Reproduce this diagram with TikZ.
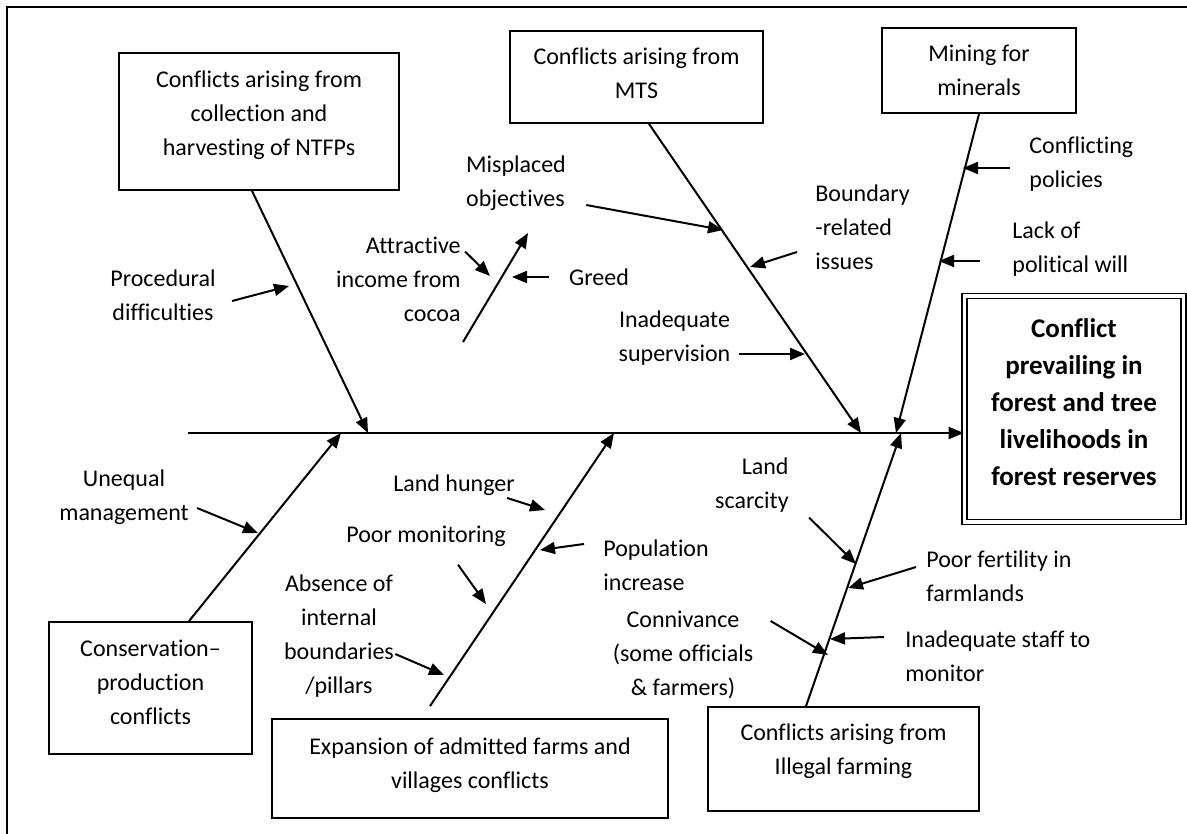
\documentclass[tikz,border=0pt]{standalone}
\usepackage{fontspec}
\setmainfont{Carlito}[Ligatures={TeX,NoCommon}]
\usetikzlibrary{arrows.meta, positioning}

\begin{document}
\begin{tikzpicture}[x=0.5pt, y=-0.5pt,
  font=\fontsize{12pt}{17pt}\selectfont,
  box/.style={draw, line width=0.9pt, align=center, inner sep=0pt},
  cause/.style={align=center, inner sep=2pt},
  bone/.style={line width=1pt, -{Triangle[length=7.5pt, width=6pt]}}]

  \useasboundingbox (0,0) rectangle (1187,834);
  \draw[line width=0.9pt] (1187,7) -- (7,7) -- (7,834);

  % category boxes
  \node[box, minimum width=140pt, minimum height=68.5pt, text depth=8.6pt] (ntfp) at (259,121.5)
    {Conflicts arising from\\collection and\\harvesting of NTFPs};
  \node[box, minimum width=126.5pt, minimum height=46pt, text depth=3.5pt] (mts) at (636.5,77)
    {Conflicts arising from\\MTS};
  \node[box, minimum width=97pt, minimum height=42.5pt] (mining) at (979,70.5)
    {Mining for\\minerals};
  \node[box, minimum width=101.5pt, minimum height=66pt, text depth=6pt] (cons) at (150.5,688)
    {Conservation--\\production\\conflicts};
  \node[box, minimum width=198pt, minimum height=49.5pt, text depth=5pt] (expan) at (470,768.5)
    {Expansion of admitted farms and\\villages conflicts};
  \node[box, minimum width=135.5pt, minimum height=52pt, text depth=10pt] (illegal) at (843.5,759)
    {Conflicts arising from\\Illegal farming};
  \node[box, double, double distance=1.6pt, line width=0.8pt,
    minimum width=109.5pt, minimum height=113pt, text depth=7pt,
    font=\bfseries\fontsize{13.5pt}{18.5pt}\selectfont] (head) at (1074,409)
    {Conflict\\prevailing in\\forest and tree\\livelihoods in\\forest reserves};

  % spine and bones
  \coordinate (s0) at (188,433);
  \coordinate (b1) at (368,433);
  \coordinate (b2) at (341,433);
  \coordinate (b3) at (614,433);
  \coordinate (b4) at (861,433);
  \coordinate (b5) at (896,433);
  \coordinate (b6) at (901,433);
  \draw[bone] (s0) -- (s0 -| head.west);
  \draw[bone] ([xshift=-3.5pt]ntfp.south) -- (b1);
  \draw[bone] ([xshift=6.25pt]mts.south) -- (b4);
  \draw[bone] (mining.south) -- (b5);
  \draw[bone] ([xshift=19.25pt]cons.north) -- (b2);
  \draw[bone] ([xshift=-20pt,yshift=6pt]expan.north) -- (b3);
  \draw[bone] ([xshift=-18.75pt]illegal.north) -- (b6);
  \coordinate (c0) at (463,342);
  \coordinate (c1) at (528,233);
  \draw[bone] (c0) -- (c1);

  % causes
  \node[cause] (proc) at (163,295) {Procedural\\difficulties};
  \node[cause, align=right, anchor=east] (attr) at (465,279.5) {Attractive\\income from\\cocoa};
  \node[cause] (greed) at (599,277) {Greed};
  \node[cause, align=left] (misp) at (516,183) {Misplaced\\objectives};
  \node[cause, align=left, anchor=west] (bound) at (811,227) {Boundary\\-related\\issues};
  \node[cause] (insup) at (674.5,338) {Inadequate\\supervision};
  \node[cause, align=left, anchor=west] (confpol) at (1025,164.5) {Conflicting\\policies};
  \node[cause, align=left, anchor=west] (lackpol) at (1008,249.5) {Lack of\\political will};
  \node[cause] (uneq) at (124,497) {Unequal\\management};
  \node[cause] (landh) at (454,485) {Land hunger};
  \node[cause, align=left, anchor=west] (popinc) at (599,565) {Population\\increase};
  \node[cause] (poormon) at (426,536) {Poor monitoring};
  \node[cause] (absint) at (339,636.5) {Absence of\\internal\\boundaries\\/pillars};
  \node[cause, align=right, anchor=east] (landsc) at (793,485.5) {Land\\scarcity};
  \node[cause, align=left, anchor=west] (poorfert) at (922,576.5) {Poor fertility in\\farmlands};
  \node[cause] (conniv) at (683,655) {Connivance\\(some officials\\\& farmers)};
  \node[cause, align=left, anchor=west] (inadstaff) at (901,656) {Inadequate staff to\\monitor};

  \draw[bone] ([xshift=6pt,yshift=-3pt]proc.east) -- (289,286);
  \draw[bone] ([yshift=14pt]attr.east) -- (490,276);
  \draw[bone] ([xshift=-8pt]greed.west) -- (512,277);
  \draw[bone] ([xshift=8pt,yshift=-11pt]misp.east) -- (723,230);
  \draw[bone] ([xshift=-7pt,yshift=-12.5pt]bound.west) -- (750,267);
  \draw[bone] ([xshift=2pt,yshift=-8pt]insup.east) -- (805,354);
  \draw[bone] ([xshift=-7.5pt,yshift=-1.75pt]confpol.west) -- (963,168);
  \draw[bone] ([xshift=-14pt,yshift=-5.75pt]lackpol.west) -- (939,261);
  \draw[bone] ([xshift=2pt,yshift=-5.5pt]uneq.east) -- (258,533);
  \draw[bone] ([xshift=-6pt,yshift=-6.5pt]landh.east) -- (545,510);
  \draw[bone] ([xshift=-7.5pt,yshift=10.5pt]popinc.west) -- (540,550);
  \draw[bone] ([xshift=16pt,yshift=-7pt]poormon.south) -- (486,604);
  \draw[bone] ([xshift=-1.5pt,yshift=-8.75pt]absint.east) -- (444,675);
  \draw[bone] ([xshift=8pt,yshift=-16pt]landsc.east) -- (856,564);
  \draw[bone] ([xshift=-3pt,yshift=4.75pt]poorfert.west) -- (848,588);
  \draw[bone] ([xshift=6.5pt,yshift=17pt]conniv.east) -- (828,655);
  \draw[bone] ([xshift=-8.5pt,yshift=9.5pt]inadstaff.west) -- (830,639);
\end{tikzpicture}
\end{document}
